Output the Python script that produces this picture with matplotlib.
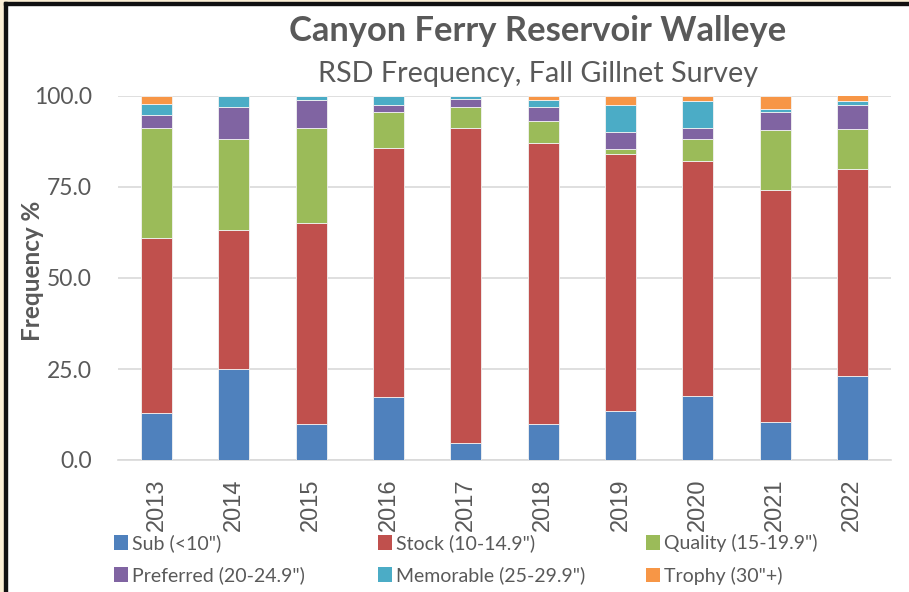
import matplotlib
matplotlib.use("Agg")
import matplotlib.pyplot as plt
from matplotlib.patches import Rectangle, Patch
import numpy as np

years = ["2013", "2014", "2015", "2016", "2017", "2018", "2019", "2020", "2021", "2022"]
sub = [12.9, 24.9, 10.0, 17.2, 4.6, 9.8, 13.4, 17.6, 10.4, 23.1]
stock = [48.0, 38.3, 55.0, 68.4, 86.7, 77.3, 70.7, 64.6, 63.8, 56.9]
quality = [30.2, 25.0, 26.1, 9.9, 5.8, 6.0, 1.3, 6.0, 16.4, 10.8]
preferred = [3.8, 8.9, 7.7, 2.1, 2.2, 4.0, 4.8, 3.0, 5.1, 6.8]
memorable = [3.0, 2.9, 1.2, 2.4, 0.7, 1.9, 7.3, 7.3, 0.8, 1.1]
trophy = [2.1, 0.0, 0.0, 0.0, 0.0, 1.0, 2.5, 1.5, 3.5, 1.5]

series_names = ['Sub (<10")', 'Stock (10-14.9")', 'Quality (15-19.9")',
                'Preferred (20-24.9")', 'Memorable (25-29.9")', 'Trophy (30"+)']
series_vals = [sub, stock, quality, preferred, memorable, trophy]
colors = ["#4F81BD", "#C0504D", "#9BBB59", "#8064A2", "#4BACC6", "#F79646"]

W, H = 909, 592
fig = plt.figure(figsize=(W / 100, H / 100), dpi=100)
fig.patch.set_facecolor("white")

# frame
fig.patches.append(Rectangle((0, 0), 4 / W, 1, transform=fig.transFigure, color="#FBEFD5", zorder=0))
fig.patches.append(Rectangle((0, 1 - 2 / H), 1, 2 / H, transform=fig.transFigure, color="#FBEFD5", zorder=0))
fig.patches.append(Rectangle((4 / W, 0), 2.5 / W, 1 - 2 / H, transform=fig.transFigure, color="#111111", zorder=1))
fig.patches.append(Rectangle((4 / W, 1 - 4.5 / H), 1, 2.5 / H, transform=fig.transFigure, color="#111111", zorder=1))

left, right, top, bottom = 118, 891, 96, 460
ax = fig.add_axes([left / W, (H - bottom) / H, (right - left) / W, (bottom - top) / H])

x = np.arange(len(years))
base = np.zeros(len(years))
for name, vals, c in zip(series_names, series_vals, colors):
    v = np.array(vals)
    ax.bar(x, v, 0.40, bottom=base, color=c, edgecolor="#F2F2F2", linewidth=0.6, zorder=3, label=name)
    base += v

ax.set_xlim(-0.5, len(years) - 0.5)
ax.set_ylim(0, 100)
ax.set_yticks([0, 25, 50, 75, 100])
ax.set_yticklabels([f"{t:.1f}" for t in [0, 25, 50, 75, 100]])
ax.grid(axis="y", color="#D9D9D9", linewidth=1.2, zorder=0)
ax.set_axisbelow(True)
for s in ["left", "right", "top"]:
    ax.spines[s].set_visible(False)
ax.spines["bottom"].set_color("#D9D9D9")
ax.spines["bottom"].set_linewidth(1.2)
ax.tick_params(axis="y", length=0, pad=19, labelsize=16.5, labelcolor="#595959")
ax.tick_params(axis="x", length=0, pad=13, labelcolor="#595959")
for lab in ax.get_yticklabels():
    lab.set_fontfamily("Lato")
ax.set_xticks(x)
ax.set_xticklabels(years, rotation=90, fontsize=17, family="Liberation Sans", va="top")

fig.text(32 / W, 1 - 271 / H, "Frequency %", rotation=90, ha="center", va="center",
         fontsize=17.5, fontweight="bold", color="#595959", family="Lato")

fig.text(538 / W, 1 - 31 / H, "Canyon Ferry Reservoir Walleye", ha="center", va="center",
         fontsize=24.8, fontweight="bold", color="#595959", family="Lato")
fig.text(538 / W, 1 - 74 / H, "RSD Frequency, Fall Gillnet Survey", ha="center", va="center",
         fontsize=20.7, color="#595959", family="Lato")

col_x = [114, 378, 646]
for ci in range(3):
    idx = [ci, ci + 3]
    handles = [Patch(facecolor=colors[i], edgecolor="none") for i in idx]
    labels = [series_names[i] for i in idx]
    leg = fig.legend(handles, labels, ncol=1, loc="upper left", bbox_to_anchor=(col_x[ci] / W, 1 - 534 / H),
                     frameon=False, prop={"family": "Lato", "size": 14}, handlelength=0.7, handleheight=0.8,
                     handletextpad=0.25, labelspacing=0.75, borderpad=0, borderaxespad=0)
    for t in leg.get_texts():
        t.set_color("#595959")

fig.savefig("out.png", dpi=100, facecolor="white")
